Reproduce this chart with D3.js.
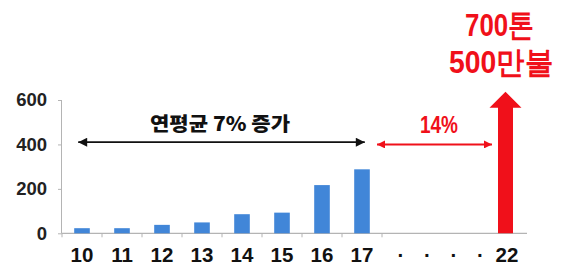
<!DOCTYPE html>
<html><head><meta charset="utf-8">
<script src="https://cdn.jsdelivr.net/npm/d3@7"></script>
<style>
html,body{margin:0;padding:0;background:#fff;}
svg{display:block;}
</style></head>
<body>
<svg id="c" width="563" height="265"></svg>
<script>
// ---- data ----
const categories = ["10","11","12","13","14","15","16","17"];
const values = [23, 23, 38, 49, 86, 93, 217, 288];
const yTicks = [0, 200, 400, 600];
const futureLabels = ["·1","·2","·3","·4","22"];
const futureValue = 637;           // red arrow reach (annotation target)
const growthLabel = "연평균 7% 증가";
const futureGrowthLabel = "14%";
const targetLines = ["700톤", "500만불"];

const svg = d3.select("#c");
const numFont = "'Liberation Sans', Arial, sans-serif";
const krFont = "'Noto Sans CJK KR', 'Noto Sans', sans-serif";
const blue = "#4186d8", red = "#f0101a", axisCol = "#b4b4b4";

const y = d3.scaleLinear().domain([0, 600]).range([233.3, 100]);
const x = d3.scaleBand().domain(categories).range([62, 382]).paddingInner(0.61).paddingOuter(0.305);
const xf = d3.scalePoint().domain(futureLabels).range([401, 507]);

// defs: arrowheads
const defs = svg.append("defs");
function head(id, color, w, h) {
  defs.append("marker").attr("id", id).attr("viewBox", "0 0 10 10").attr("refX", 10).attr("refY", 5)
    .attr("markerUnits", "userSpaceOnUse").attr("markerWidth", w).attr("markerHeight", h).attr("orient", "auto-start-reverse")
    .append("path").attr("d", "M0,0L10,5L0,10Z").attr("fill", color);
}
head("hb", "#111", 11, 9);
head("hr", red, 10, 8);

// y axis
const ya = svg.append("g").attr("transform", "translate(62,0)")
  .call(d3.axisLeft(y).tickValues(yTicks).tickSize(4).tickPadding(11));
ya.select(".domain").attr("stroke", axisCol).attr("d", `M-0.5,${y(0)}V${y(600)}`);
ya.selectAll(".tick line").attr("stroke", axisCol);
ya.selectAll(".tick text").attr("font-family", numFont).attr("font-weight", "bold")
  .attr("font-size", 18.5).attr("fill", "#222");

// x axis baseline + band boundary ticks
const step = x.step();
const bounds = categories.map(d => x(d) - step * x.paddingInner() / 2).concat([x.range()[1]]);
svg.append("line").attr("x1", 62).attr("x2", 527).attr("y1", y(0)).attr("y2", y(0))
  .attr("stroke", axisCol).attr("stroke-width", 1.2);
svg.selectAll(".bt").data(bounds).join("line").attr("class", "bt")
  .attr("x1", d => d).attr("x2", d => d).attr("y1", y(0)).attr("y2", y(0) + 4)
  .attr("stroke", axisCol);

// bars
svg.selectAll(".bar").data(values).join("rect").attr("class", "bar")
  .attr("x", (d, i) => x(categories[i])).attr("width", x.bandwidth())
  .attr("y", d => y(d)).attr("height", d => y(0) - y(d)).attr("fill", blue);

// x labels
svg.selectAll(".xl").data(categories).join("text").attr("class", "xl")
  .attr("x", d => x(d) + x.bandwidth() / 2).attr("y", 262)
  .attr("text-anchor", "middle").attr("font-family", numFont).attr("font-weight", "bold")
  .attr("font-size", 20.5).attr("fill", "#111").text(d => d);
svg.selectAll(".xf").data(futureLabels).join("text").attr("class", "xf")
  .attr("x", d => xf(d)).attr("y", 262)
  .attr("text-anchor", "middle").attr("font-family", numFont).attr("font-weight", "bold")
  .attr("font-size", 20.5).attr("fill", "#111").text(d => d.startsWith("·") ? "·" : d);

// black double arrow + label
const ay = y(410);
svg.append("line").attr("x1", x("10") + 4).attr("x2", x("17") + x.bandwidth() - 5)
  .attr("y1", ay).attr("y2", ay).attr("stroke", "#111").attr("stroke-width", 1.8)
  .attr("marker-start", "url(#hb)").attr("marker-end", "url(#hb)");
svg.append("text").attr("x", 150).attr("y", 130.5)
  .attr("textLength", 140).attr("lengthAdjust", "spacingAndGlyphs")
  .attr("font-family", krFont).attr("font-weight", 900).attr("font-size", 19.5)
  .attr("fill", "#111").text(growthLabel);

// red double arrow + label
const ry = y(400);
svg.append("line").attr("x1", 377).attr("x2", 492).attr("y1", ry).attr("y2", ry)
  .attr("stroke", red).attr("stroke-width", 2)
  .attr("marker-start", "url(#hr)").attr("marker-end", "url(#hr)");
svg.append("text").attr("x", 420).attr("y", 133.3)
  .attr("textLength", 38).attr("lengthAdjust", "spacingAndGlyphs")
  .attr("font-family", numFont).attr("font-weight", "bold").attr("font-size", 23)
  .attr("fill", red).text(futureGrowthLabel);

// red big arrow at "22"
const cx = xf("22") - 1.5;
const tipY = y(futureValue), baseY = y(0), headH = 16, shaftW = 15, headW = 32;
svg.append("path").attr("fill", red).attr("d",
  `M${cx - shaftW/2},${baseY}V${tipY + headH}H${cx - headW/2}L${cx},${tipY}L${cx + headW/2},${tipY + headH}H${cx + shaftW/2}V${baseY}Z`);

// target text
const tx = [465, 449], tw = [69, 104];
svg.selectAll(".tt").data(targetLines).join("text").attr("class", "tt")
  .attr("x", (d, i) => tx[i]).attr("y", (d, i) => 36 + i * 36.5)
  .attr("textLength", (d, i) => tw[i]).attr("lengthAdjust", "spacingAndGlyphs")
  .attr("font-family", numFont).attr("font-weight", "bold").attr("font-size", 31)
  .attr("fill", red).text(d => d);
</script>
</body></html>
